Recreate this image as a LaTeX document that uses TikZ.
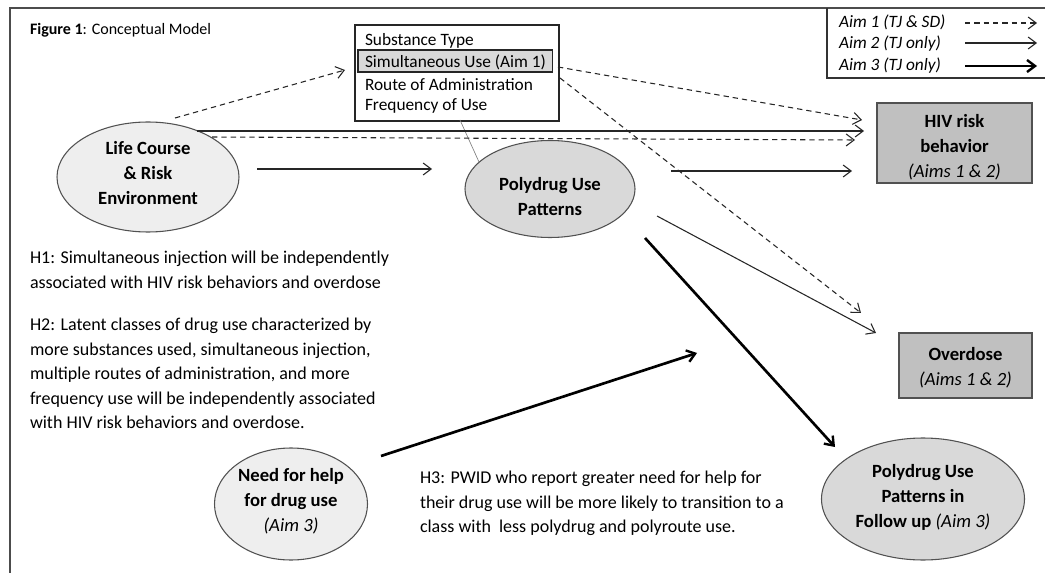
\documentclass[tikz,border=0pt]{standalone}
\usepackage{fontspec}
\setmainfont{Carlito}
\usetikzlibrary{arrows.meta,shapes.geometric}
\definecolor{lightfill}{HTML}{EEEEEE}
\definecolor{midfill}{HTML}{D9D9D9}
\definecolor{boxfill}{HTML}{C0C0C0}
\definecolor{linecol}{HTML}{262626}
\begin{document}
\begin{tikzpicture}[x=0.75pt,y=-0.75pt,
  every node/.style={inner sep=0pt, outer sep=0pt},
  ell/.style={ellipse, draw=linecol!80, line width=0.8pt},
  outbox/.style={rectangle, draw=linecol!80, line width=1pt, fill=boxfill},
  lab/.style={align=center, font=\fontsize{14}{18.75}\selectfont\bfseries},
  hyp/.style={anchor=north west, align=left, font=\fontsize{13.5}{18.4}\selectfont},
  tip/.style={-{Straight Barb[length=6pt,width=9pt,line width=0.8pt]}},
  aimone/.style={tip, line width=0.8pt, dash pattern=on 4pt off 3pt, draw=linecol},
  aimtwo/.style={tip, line width=0.8pt, draw=linecol},
  aimthree/.style={-{Straight Barb[length=6pt,width=9pt,line width=1.8pt]}, line width=2pt, draw=black},
  legtext/.style={anchor=base west, font=\fontsize{13}{15}\selectfont\itshape},
  subtext/.style={anchor=base west, font=\fontsize{13}{15}\selectfont}
]
\useasboundingbox (0,0) rectangle (1045,573);
% frame
\draw[line width=1.6pt, black!70] (10,575) -- (10,8) -- (1047,8);
\node[anchor=base west, font=\fontsize{12}{14}\selectfont] (title) at (30,35) {\textbf{Figure 1}: Conceptual Model};

% legend
\draw[line width=1pt, black!80] (1047,78) -- (827,78) -- (827,8);
\node[legtext] (leg1) at (839,28) {Aim 1 (TJ \& SD)};
\node[legtext] (leg2) at (839,49) {Aim 2 (TJ only)};
\node[legtext] (leg3) at (839,71) {Aim 3 (TJ only)};
\coordinate (l1a) at (965,23); \coordinate (l1b) at (1037,23);
\coordinate (l2a) at (965,43); \coordinate (l2b) at (1037,43);
\coordinate (l3a) at (965,66); \coordinate (l3b) at (1037,66);
\draw[aimone] (l1a) -- (l1b);
\draw[aimtwo] (l2a) -- (l2b);
\draw[aimthree] (l3a) -- (l3b);

% substance box
\node[draw=linecol, line width=0.8pt, fill=white, minimum width=153pt, minimum height=72pt, anchor=north west] (subbox) at (355,25) {};
\node[draw=linecol, line width=1pt, fill=midfill, minimum width=146pt, minimum height=16.5pt, anchor=north west] (simbox) at (358,50) {};
\node[subtext] (s1) at (365,46) {Substance Type};
\node[subtext] (s2) at (365,68) {Simultaneous Use (Aim 1)};
\node[subtext] (s3) at (365,91) {Route of Administration};
\node[subtext] (s4) at (365,111) {Frequency of Use};

% main nodes
\node[ell, fill=lightfill, minimum width=136.5pt, minimum height=82.5pt] (life) at (148,177) {};
\node[lab] (lifet) at (148,173) {Life Course\\\& Risk\\Environment};
\node[ell, fill=midfill, minimum width=127.5pt, minimum height=72.75pt] (poly) at (550,189) {};
\node[lab] (polyt) at (550,197) {Polydrug Use\\Patterns};
\node[ell, fill=lightfill, minimum width=114.75pt, minimum height=84pt] (need) at (291,504) {};
\node[lab] (needt) at (291,501) {Need for help\\for drug use\\{\mdseries\itshape (Aim 3)}};
\node[ell, fill=midfill, minimum width=152.25pt, minimum height=91.5pt] (follow) at (923,499) {};
\node[lab] (followt) at (923,497) {Polydrug Use\\Patterns in\\Follow up {\mdseries\itshape (Aim 3)}};
\node[outbox, minimum width=116.25pt, minimum height=60pt] (hiv) at (954.5,143) {};
\node[lab] (hivt) at (954.5,147) {HIV risk\\behavior\\{\mdseries\itshape (Aims 1 \& 2)}};
\node[outbox, minimum width=99.75pt, minimum height=48.75pt] (od) at (965.5,365.5) {};
\node[lab] (odt) at (965.5,368) {Overdose\\{\mdseries\itshape (Aims 1 \& 2)}};

% thin gray connector
\coordinate (g1) at (460,120); \coordinate (g2) at (479,162);
\draw[gray, line width=0.5pt] (g1) -- (g2);

% hypotheses
\node[hyp] (h1) at (30,251) {H1: Simultaneous injection will be independently\\associated with HIV risk behaviors and overdose};
\node[hyp] (h2) at (30,318) {H2: Latent classes of drug use characterized by\\more substances used, simultaneous injection,\\multiple routes of administration, and more\\frequency use will be independently associated\\with HIV risk behaviors and overdose.};
\node[hyp] (h3) at (420,471) {H3: PWID who report greater need for help for\\their drug use will be more likely to transition to a\\class with \ less polydrug and polyroute use.};

% arrow end points
\coordinate (a1s) at (175,118); \coordinate (a1e) at (345,70);
\coordinate (a2s) at (197,131); \coordinate (a2e) at (864,131);
\coordinate (a3s) at (212,137); \coordinate (a3e) at (855,140);
\coordinate (a4s) at (257,169); \coordinate (a4e) at (432,169);
\coordinate (a5s) at (558,67);  \coordinate (a5e) at (862,120);
\coordinate (a6s) at (560,78);  \coordinate (a6e) at (861,313);
\coordinate (a7s) at (671,171); \coordinate (a7e) at (852,171);
\coordinate (a8s) at (657,216); \coordinate (a8e) at (876,333);
\coordinate (a9s) at (645,238); \coordinate (a9e) at (835,447);
\coordinate (a10s) at (381,456); \coordinate (a10e) at (697,353);

\draw[aimone] (a1s) -- (a1e);
\draw[aimtwo] (a2s) -- (a2e);
\draw[aimone] (a3s) -- (a3e);
\draw[aimtwo] (a4s) -- (a4e);
\draw[aimone] (a5s) -- (a5e);
\draw[aimone] (a6s) -- (a6e);
\draw[aimtwo] (a7s) -- (a7e);
\draw[aimtwo] (a8s) -- (a8e);
\draw[aimthree] (a9s) -- (a9e);
\draw[aimthree] (a10s) -- (a10e);
\end{tikzpicture}
\end{document}
